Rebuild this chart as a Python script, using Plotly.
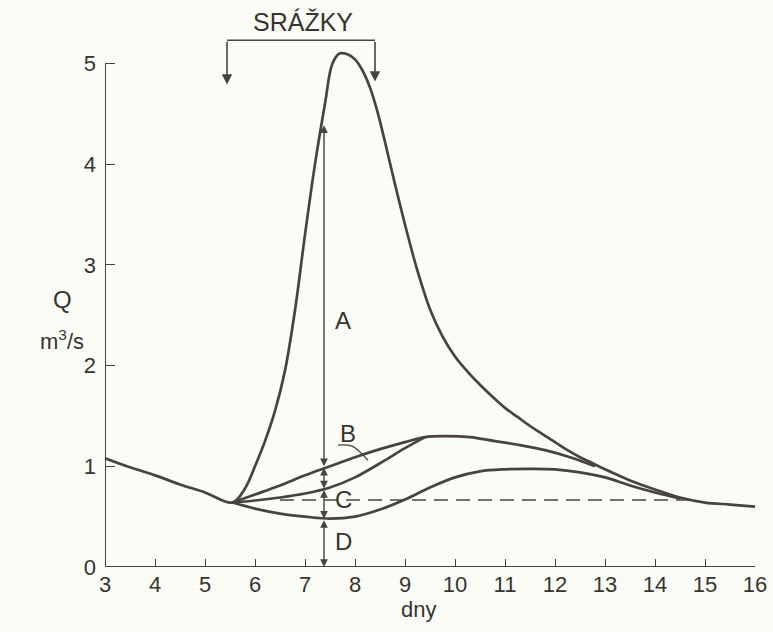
import plotly.graph_objects as go

# ---- data (day, Q m3/s) ----
main_day = [3.0, 3.5, 4.0, 4.5, 5.0, 5.55, 5.8, 6.0, 6.2, 6.4, 6.6, 6.8, 7.0, 7.2, 7.4, 7.55, 7.7, 7.85, 8.0, 8.15, 8.3, 8.45, 8.6,
            8.8, 9.0, 9.25, 9.5, 9.75, 10.0, 10.25, 10.5, 10.75, 11.0, 11.25, 11.5, 11.75, 12.0, 12.25, 12.5, 12.75, 13.0,
            13.5, 14.0, 14.5, 15.0, 15.5, 16.0]
main_q   = [1.08, 0.99, 0.91, 0.82, 0.74, 0.64, 0.78, 1.00, 1.25, 1.55, 1.95, 2.55, 3.30, 4.00, 4.60, 5.00, 5.10, 5.09, 5.04, 4.93,
            4.76, 4.52, 4.22, 3.80, 3.40, 2.94, 2.56, 2.29, 2.09, 1.94, 1.81, 1.69, 1.58, 1.49, 1.40, 1.32, 1.24, 1.16, 1.09,
            1.03, 0.97, 0.86, 0.77, 0.69, 0.64, 0.62, 0.60]

b_upper_day = [5.55, 6.0, 6.5, 7.0, 7.5, 8.0, 8.5, 9.0, 9.4, 9.8, 10.3, 10.8, 11.3, 11.8, 12.3, 12.8]
b_upper_q   = [0.64, 0.72, 0.81, 0.91, 1.00, 1.09, 1.17, 1.24, 1.29, 1.30, 1.29, 1.25, 1.21, 1.16, 1.09, 1.00]

b_lower_day = [5.55, 6.0, 6.5, 7.0, 7.5, 8.0, 8.5, 9.0, 9.4]
b_lower_q   = [0.64, 0.66, 0.69, 0.73, 0.79, 0.89, 1.03, 1.18, 1.29]

c_day = [5.55, 6.0, 6.5, 7.0, 7.5, 8.0, 8.5, 9.0, 9.5, 10.0, 10.5, 11.0, 11.5, 12.0, 12.5, 13.0, 13.5, 14.0, 14.5]
c_q   = [0.64, 0.58, 0.53, 0.50, 0.48, 0.50, 0.57, 0.67, 0.79, 0.89, 0.95, 0.97, 0.975, 0.97, 0.94, 0.89, 0.81, 0.74, 0.68]

base_day = [6.5, 14.7]
base_q   = [0.665, 0.665]

x_ticks = list(range(3, 17))
y_ticks = [0, 1, 2, 3, 4, 5]

dim_day = 7.38
dim_levels = [4.40, 1.00, 0.78, 0.48, 0.0]
dim_labels = ["A", "B", "C", "D"]
label_day = [7.76, 7.86, 7.76, 7.76]
label_q = [2.45, 1.33, 0.67, 0.25]

leader_day = [7.66, 7.94, 8.26]
leader_q = [1.21, 1.20, 1.06]

rain_start, rain_end = 5.44, 8.40
rain_q_top, rain_tip_l, rain_tip_r = 5.23, 4.79, 4.82

ink = "#48433e"
txt = "#36342f"
bg = "#fcfcf7"
fam = "Liberation Sans, Arial, sans-serif"
font = dict(family=fam, size=24, color=txt)
tickfont = dict(family=fam, size=22, color=txt)

fig = go.Figure()
for d, q in [(main_day, main_q), (b_upper_day, b_upper_q), (b_lower_day, b_lower_q), (c_day, c_q)]:
    fig.add_trace(go.Scatter(x=d, y=q, mode="lines", line=dict(color=ink, width=2.7, shape="spline", smoothing=1.0),
                             hoverinfo="skip", showlegend=False))
fig.add_trace(go.Scatter(x=base_day, y=base_q, mode="lines", line=dict(color=ink, width=1.4, dash="14px,8px"),
                         hoverinfo="skip", showlegend=False))
fig.add_trace(go.Scatter(x=leader_day, y=leader_q, mode="lines", line=dict(color=ink, width=1.2, shape="spline"),
                         hoverinfo="skip", showlegend=False))

shapes = [
    dict(type="line", xref="x", yref="y", x0=3, x1=3, y0=0, y1=5.0, line=dict(color=ink, width=2)),
    dict(type="line", xref="x", yref="y", x0=3, x1=16, y0=0, y1=0, line=dict(color=ink, width=2)),
    dict(type="line", xref="x", yref="y", x0=rain_start, x1=rain_end, y0=rain_q_top, y1=rain_q_top,
         line=dict(color=ink, width=1.6)),
]

annotations = []
for i in range(4):
    annotations.append(dict(x=dim_day, y=dim_levels[i + 1], ax=dim_day, ay=dim_levels[i], xref="x", yref="y",
                            axref="x", ayref="y", text="", showarrow=True, arrowhead=2, arrowside="end+start",
                            arrowsize=1.1, arrowwidth=1.4, arrowcolor=ink, standoff=0, startstandoff=0))
    annotations.append(dict(x=label_day[i], y=label_q[i], text=dim_labels[i], showarrow=False, font=font,
                            xref="x", yref="y"))
for xd, yl in [(rain_start, rain_tip_l), (rain_end, rain_tip_r)]:
    annotations.append(dict(x=xd, y=yl, ax=xd, ay=rain_q_top, xref="x", yref="y", axref="x", ayref="y", text="",
                            showarrow=True, arrowhead=2, arrowsize=1.3, arrowwidth=1.6, arrowcolor=ink, standoff=0))
annotations.append(dict(x=(rain_start + rain_end) / 2 + 0.04, y=5.41, text="SRÁŽKY", showarrow=False,
                        font=dict(family=fam, size=25, color=txt), xref="x", yref="y"))
annotations.append(dict(x=-0.066, y=0.474, xref="paper", yref="paper", xanchor="center", yanchor="middle",
                        text="Q", showarrow=False, font=font))
annotations.append(dict(x=-0.066, y=0.402, xref="paper", yref="paper", xanchor="center", yanchor="middle",
                        text="m<sup>3</sup>/s", showarrow=False, font=dict(family=fam, size=22, color=txt)))
annotations.append(dict(x=0.483, y=-0.075, xref="paper", yref="paper", xanchor="center", yanchor="middle",
                        text="dny", showarrow=False, font=dict(family=fam, size=22, color=txt)))

fig.update_layout(
    width=773, height=632, margin=dict(l=105, r=18, t=3, b=65),
    paper_bgcolor=bg, plot_bgcolor=bg, shapes=shapes, annotations=annotations,
    xaxis=dict(range=[3, 16], tickvals=x_ticks, ticks="inside", ticklen=8, tickcolor=ink, tickwidth=1.3,
               showgrid=False, zeroline=False, showline=False, tickfont=tickfont, ticklabelstandoff=2),
    yaxis=dict(range=[0, 5.6], tickvals=y_ticks, ticks="inside", ticklen=10, tickcolor=ink, tickwidth=1.3,
               showgrid=False, zeroline=False, showline=False, tickfont=tickfont, ticklabelstandoff=8),
)
fig.write_html("out.html")
